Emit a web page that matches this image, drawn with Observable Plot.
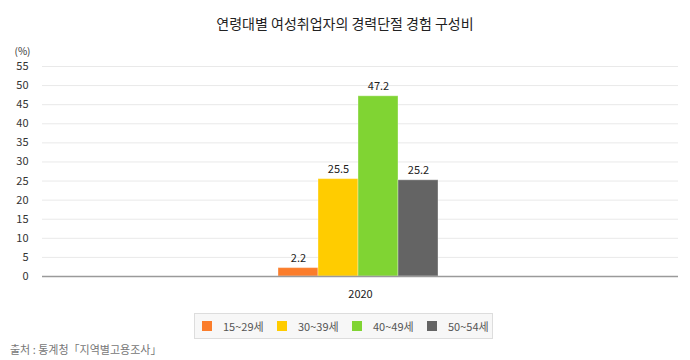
<!DOCTYPE html>
<html><head><meta charset="utf-8">
<script src="https://cdn.jsdelivr.net/npm/d3@7"></script>
<script src="https://cdn.jsdelivr.net/npm/@observablehq/plot@0.6"></script>
<style>
body{margin:0;background:#fff;font-family:"Noto Sans CJK KR","Noto Sans",sans-serif;}
#wrap{position:relative;width:690px;height:360px;}
#title{position:absolute;left:0;top:13px;width:690px;text-align:center;font-size:14px;color:#222;}
#chart{position:absolute;left:0;top:40px;}
#legend{position:absolute;left:194px;top:313px;width:297px;height:24px;border:1px solid #ddd;background:#f7f7f7;}
.item{position:absolute;top:0;height:24px;line-height:24px;font-size:11px;color:#555;white-space:nowrap;}
.sw{position:absolute;top:7px;width:10px;height:10px;}
#source{position:absolute;left:10px;top:341px;font-size:11px;color:#777;white-space:nowrap;}
</style></head>
<body><div id="wrap">
<div id="title">연령대별 여성취업자의 경력단절 경험 구성비</div>
<div id="chart"></div>
<div id="legend"></div>
<div id="source">출처 : 통계청「지역별고용조사」</div>
</div>
<script>
const years = ["2020"];
const ages = ["15~29세", "30~39세", "40~49세", "50~54세"];
const values = [2.2, 25.5, 47.2, 25.2];
const colors = ["#fb7d2b", "#ffcc00", "#80d433", "#646464"];
const yTicks = [0,5,10,15,20,25,30,35,40,45,50,55];

const data = ages.map((a, i) => ({year: years[0], age: a, value: values[i]}));

const plot = Plot.plot({
  width: 690, height: 265,
  marginLeft: 42, marginRight: 12, marginTop: 26, marginBottom: 29,
  style: {fontFamily: "'Noto Sans CJK KR', 'Noto Sans', sans-serif", fontSize: "11px", color: "#333", background: "#fff"},
  fx: {domain: years, padding: 0, label: null, axis: null},
  x: {domain: ages, padding: 0, insetLeft: 236, insetRight: 240, axis: null},
  y: {domain: [0, 55], ticks: yTicks, tickSize: 0, tickPadding: 14, label: null, grid: false},
  color: {domain: ages, range: colors},
  marks: [
    Plot.ruleY(yTicks.filter(d => d > 0), {stroke: "#e9e9e9"}),
    Plot.barY(data, {fx: "year", x: "age", y: "value", fill: "age", stroke: "#ffffff", strokeOpacity: 0.35, strokeWidth: 1}),
    Plot.text(data, {fx: "year", x: "age", y: "value", text: d => d.value.toFixed(1), dy: -10, fill: "#222", fontSize: 11}),
    Plot.text(years, {fx: d => d, frameAnchor: "bottom", dy: 21, text: d => d, fill: "#222", fontSize: 11}),
    Plot.ruleX([0], {frameAnchor: "left", stroke: "#8a8a8a", strokeWidth: 1}),
    Plot.ruleY([0], {stroke: "#9a9a9a", strokeWidth: 1.5}),
    Plot.text(["(%)"], {frameAnchor: "top-left", dx: -28, dy: -19, text: d => d, fill: "#333", fontSize: 10})
  ]
});
document.getElementById("chart").appendChild(plot);

const lg = document.getElementById("legend");
ages.forEach((a, i) => {
  const sw = document.createElement("div");
  sw.className = "sw"; sw.style.left = (7 + i * 75) + "px"; sw.style.background = colors[i];
  lg.appendChild(sw);
  const t = document.createElement("div");
  t.className = "item"; t.style.left = (28 + i * 75) + "px"; t.textContent = a;
  lg.appendChild(t);
});
</script>
</body></html>
